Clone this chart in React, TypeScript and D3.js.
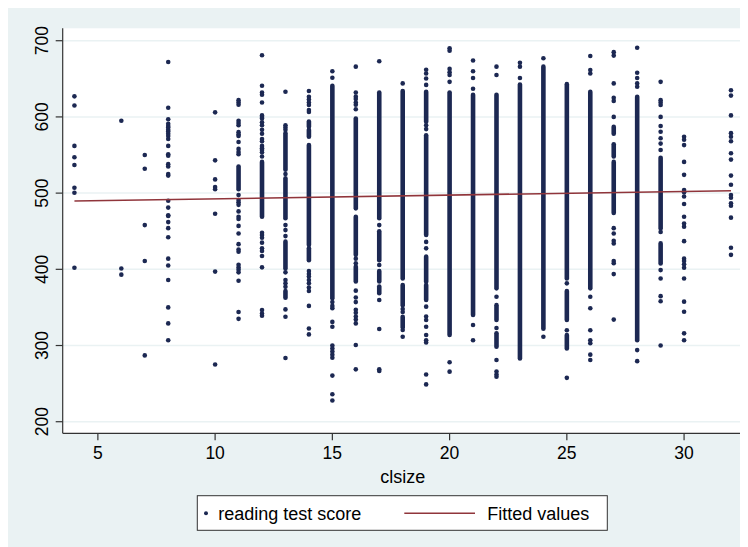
import React from 'react';
import * as d3 from 'd3';

// class sizes that have observations
const clsizes = [4, 6, 7, 8, 10, 11, 12, 13, 14, 15, 16, 17, 18, 19, 20, 21, 22, 23, 24, 25, 26, 27, 28, 29, 30, 32];

// isolated reading scores per class size (same order as clsizes)
const scoreDots: number[][] = [
  [627, 615, 562, 547, 537, 507, 500.5, 402],
  [595, 401, 393],
  [550, 532, 458, 411, 287],
  [672, 612, 597, 591, 588, 586, 583, 581, 578, 575, 571, 562, 551, 549, 538, 535, 525, 523, 490, 481, 471, 470, 462, 454, 442, 414, 405, 386, 350, 329, 307],
  [606, 543, 518, 508, 505, 473, 397, 275],
  [622, 619, 616, 595, 592, 589, 580, 577, 575, 567, 558, 554, 551, 497.5, 491, 488, 484.6, 476, 469, 466, 457, 447, 433, 426, 423, 406, 402.5, 399.5, 396, 385, 344, 335],
  [681, 641, 632, 629, 619, 602, 600, 598, 593, 589, 583, 578, 571, 568, 562, 559, 556.6, 553.5, 548, 448, 445, 441.5, 435, 427.5, 424, 417.5, 402.6, 346.6, 342, 339],
  [633, 589, 586, 583, 525, 458, 451.5, 443.6, 396, 386, 381.6, 377, 347.4, 337.8, 283.6],
  [634, 626.5, 623, 619, 615.6, 609, 606.6, 397.8, 394, 390.5, 386, 381.6, 376, 371.5, 352, 322.4, 314.6],
  [660, 651.5, 357, 352, 349, 331, 324.7, 300, 296, 292, 288, 284, 260.5, 236, 227.8],
  [666, 632, 626.6, 623.5, 619, 616, 610, 414, 408, 372, 363, 357, 347, 343, 338, 334, 329, 300.7, 268.7],
  [673, 458, 405.6, 359.7, 321.6, 268.7, 266.5],
  [644, 348, 344, 320.3, 311.5],
  [662, 657, 650.5, 642, 589, 584, 436, 427.5, 351, 338, 333.5, 324.7, 313.8, 307, 304, 262, 249],
  [690, 687, 663, 658.6, 655, 646, 278, 265.7],
  [674, 660, 651, 637, 327, 307],
  [666, 655, 364, 323, 281, 266, 262, 259],
  [671, 666, 651],
  [677, 311.5],
  [381.6, 320, 257.6],
  [680, 661.6, 657, 364, 349, 320, 307, 303, 288, 281],
  [685, 680.5, 644, 625, 621, 600, 454, 447, 437.5, 434, 411, 408, 393.7, 334],
  [690.8, 658, 651, 644, 639.6, 294, 279.5],
  [646, 622, 619, 615.6, 600, 588, 580.6, 572, 565, 556.6, 449, 399, 388, 364.8, 358, 300],
  [574, 570, 563, 541, 524, 504, 501, 495.6, 485.7, 469, 460, 456, 437, 414, 411, 406.5, 402, 388, 357.6, 344.4, 316, 307],
  [635, 628, 602, 578.7, 574, 568, 552.4, 544, 523, 511, 497.5, 494, 486.6, 483.5, 467.8, 428.4, 419],
];

// score ranges where observations overlap into a solid strip
const scoreRuns: [number, number][][] = [
  [], [], [], [], [],
  [[505, 535]],
  [[469, 541]],
  [[530.6, 578.7], [467, 519.3], [401, 436.3], [362.7, 371.5]],
  [[587, 594], [574, 583], [432, 563], [412, 427.5]],
  [[362, 641]],
  [[480, 598], [419, 469], [384, 403.5]],
  [[467, 632], [412, 450], [384, 397.8], [368.5, 377.5]],
  [[388, 634], [353, 379.4], [324, 337.8]],
  [[593.7, 633], [445, 576], [383.8, 416.6], [359.7, 379.4]],
  [[313.8, 632]],
  [[340, 629]],
  [[375, 629], [333.5, 353], [298.5, 316]],
  [[283, 642.6]],
  [[322, 666]],
  [[388, 643], [333.5, 371.5], [296, 313.8]],
  [[375, 633]],
  [[578, 587], [548, 564], [474, 541]],
  [[307, 626.5]],
  [[453.7, 546.5], [407.8, 434]],
  [],
  [],
];

const fitX = [4, 32];
const fitY = [489.6, 503.2];

const xTicks = [5, 10, 15, 20, 25, 30];
const yTicks = [200, 300, 400, 500, 600, 700];

const W = 740;
const H = 539;
const bg = '#eaf2f3';
const navy = '#1c2852';
const maroon = '#90353b';
const font = '"Liberation Sans", Arial, Helvetica, sans-serif';

const App: React.FC = () => {
  const x = d3.scaleLinear().domain([3.5, 32.5]).range([54.7, 734.7]);
  const y = d3.scaleLinear().domain([184.8, 716.3]).range([425.3, 20.3]);
  const [x0, x1] = x.range();
  const [y0, y1] = y.range();

  const fitLine = d3.line<number>()
    .x((d, i) => x(fitX[i]))
    .y((d) => y(d));

  const r = 2.3;

  return (
    <>
      <style>{'body{overflow:hidden}'}</style>
      <svg width={W} height={H} style={{ display: 'block', fontFamily: font }}>
        <rect width={W} height={H} fill={bg} />
        <rect x={x0} y={y1} width={x1 - x0} height={y0 - y1} fill="#fff" />

        {yTicks.map((t) => (
          <line key={'g' + t} x1={x0} x2={x1} y1={y(t)} y2={y(t)} stroke={bg} strokeWidth={1.5} />
        ))}

        {/* overlapping observations */}
        {clsizes.map((c, i) =>
          scoreRuns[i].map((run, j) => (
            <line
              key={`r${c}-${j}`}
              x1={x(c)} x2={x(c)}
              y1={y(run[0])} y2={y(run[1])}
              stroke={navy} strokeWidth={r * 2} strokeLinecap="round"
            />
          ))
        )}
        {clsizes.map((c, i) =>
          scoreDots[i].map((s, j) => (
            <circle key={`d${c}-${j}`} cx={x(c)} cy={y(s)} r={r} fill={navy} />
          ))
        )}

        <path d={fitLine(fitY) || ''} fill="none" stroke={maroon} strokeWidth={1.6} />

        {/* axes */}
        <line x1={x0} x2={x0} y1={y1} y2={y0} stroke="#333" strokeWidth={1.2} />
        <line x1={x0} x2={x1} y1={y0} y2={y0} stroke="#333" strokeWidth={1.2} />
        {yTicks.map((t) => (
          <g key={'yt' + t}>
            <line x1={x0 - 7} x2={x0} y1={y(t)} y2={y(t)} stroke="#333" strokeWidth={1.2} />
            <text
              transform={`translate(40.3,${y(t)}) rotate(-90)`}
              textAnchor="middle" fontSize={17.5} fill="#000"
            >{t}</text>
          </g>
        ))}
        {xTicks.map((t) => (
          <g key={'xt' + t}>
            <line x1={x(t)} x2={x(t)} y1={y0} y2={y0 + 7} stroke="#333" strokeWidth={1.2} />
            <text x={x(t)} y={451.3} textAnchor="middle" fontSize={17.5} fill="#000">{t}</text>
          </g>
        ))}
        <text x={(x0 + x1) / 2} y={474.7} textAnchor="middle" fontSize={18} fill="#000">clsize</text>

        {/* legend */}
        <rect x={189.3} y={487.7} width={410} height={34.6} fill="#fff" stroke="#333" strokeWidth={1} />
        <circle cx={198} cy={505.3} r={2} fill={navy} />
        <text x={210.3} y={511.6} fontSize={18} fill="#000">reading test score</text>
        <line x1={396.3} x2={467} y1={505.3} y2={505.3} stroke={maroon} strokeWidth={1.6} />
        <text x={479.3} y={511.6} fontSize={18} fill="#000">Fitted values</text>
      </svg>
    </>
  );
};

export default App;
